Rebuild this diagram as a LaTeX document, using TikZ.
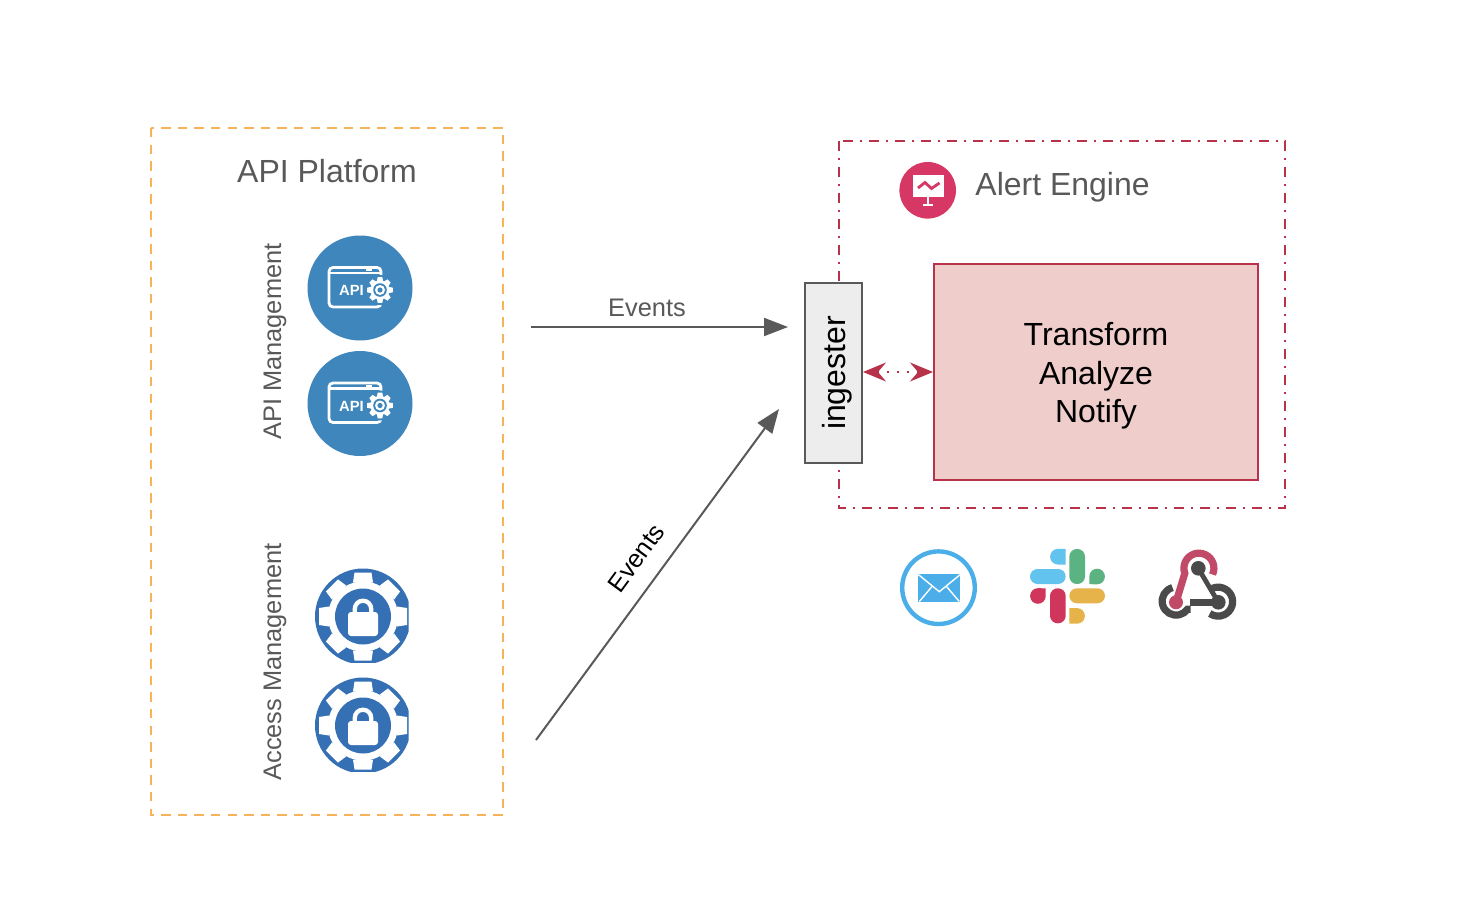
\documentclass[tikz,border=0pt]{standalone}
\usepackage{fontspec}
\setmainfont{Liberation Sans}
\usetikzlibrary{arrows.meta}
\definecolor{txtgrey}{HTML}{595959}
\definecolor{orangeb}{HTML}{F8B35A}
\definecolor{alertred}{HTML}{B8324A}
\definecolor{pinkfill}{HTML}{EECDCB}
\definecolor{apiblue}{HTML}{3E86BC}
\definecolor{lockblue}{HTML}{3570B5}
\definecolor{alertpink}{HTML}{D73765}
\definecolor{mailblue}{HTML}{4BAEE8}
\definecolor{slblue}{HTML}{62C3EE}
\definecolor{slgreen}{HTML}{5BB381}
\definecolor{slred}{HTML}{D0355C}
\definecolor{slyellow}{HTML}{E5B34A}
\definecolor{hookdark}{HTML}{4A4A4A}
\definecolor{hookred}{HTML}{C04A68}
\tikzset{
  flowarrow/.style={draw=txtgrey,line width=1pt,-{Stealth[length=12pt,width=9pt,inset=0pt]}},
  redarrow/.style={draw=alertred,line width=1.2pt,dash pattern=on 1.2pt off 3.8pt,
    {Stealth[length=11.5pt,width=9.5pt,inset=4pt,color=alertred,sep=0pt]}-{Stealth[length=11.5pt,width=9.5pt,inset=4pt,color=alertred,sep=0pt]}},
  greylabel/.style={text=txtgrey,inner sep=0pt,font=\fontsize{12.7pt}{15pt}\selectfont},
  titlelabel/.style={text=txtgrey,inner sep=0pt,font=\fontsize{16pt}{19pt}\selectfont},
  blacklabel/.style={text=black,inner sep=0pt,font=\fontsize{16pt}{19.3pt}\selectfont},
  platformbox/.style={draw=orangeb,line width=1.1pt,dash pattern=on 4.7pt off 3.6pt},
  enginebox/.style={draw=alertred,line width=1.1pt,dash pattern=on 5pt off 3.5pt on 1pt off 3.5pt},
  ingesterbox/.style={draw=txtgrey,line width=1pt,fill=black!7,minimum width=28.5pt,minimum height=90pt,inner sep=0pt,outer sep=0.5pt},
  workbox/.style={draw=alertred,line width=1pt,fill=pinkfill,minimum width=162pt,minimum height=108pt,inner sep=0pt,outer sep=0.5pt,align=center},
  hookline/.style={line width=3.6pt,line cap=butt},
}
\newcommand{\gearfill}[6]{%
  \fill[#1] (0,0) circle [radius=#2];
  \foreach \a in {0,#4,...,359}
    \fill[#1,rotate=\a] (-#5,#2-1) -- (-#6,#3) -- (#6,#3) -- (#5,#2-1) -- cycle;
}
\newcommand{\apiicon}[2]{%
  \begin{scope}[shift={(#1,#2)}]
    \fill[apiblue] (0,0) circle [radius=52.5];
    \draw[white,line width=1.4pt,rounded corners=2pt] (-31,-20.5) rectangle (21,19);
    \draw[white,line width=1.1pt] (-31,-15) -- (21,-15);
    \draw[white,line width=1pt] (6,-18) -- (12,-18);
    \fill[apiblue] (20,2) circle [radius=15];
    \begin{scope}[shift={(20,2)}]
      \gearfill{white}{9.5}{12.8}{45}{3.2}{2.3}
      \fill[apiblue] (0,0) circle [radius=6.8];
      \fill[white] (0,0) circle [radius=5];
      \fill[apiblue] (0,0) circle [radius=2.6];
    \end{scope}
    \node[text=white,inner sep=0pt,font=\fontsize{7.4pt}{8pt}\selectfont\bfseries] at (-8.5,2.5) {API};
  \end{scope}}
\newcommand{\lockicon}[2]{%
  \begin{scope}[shift={(#1,#2)}]
    \clip (-50,-50) rectangle (45.5,45.5);
    \fill[lockblue] (0,0) circle [radius=48];
    \gearfill{white}{35}{44}{45}{10}{8.5}
    \fill[lockblue] (0,0) circle [radius=28];
    \draw[white,line width=2.15pt] (-8.2,-2) -- (-8.2,-7.6) arc [start angle=180,end angle=360,radius=8.2] -- (8.2,-2);
    \fill[white,rounded corners=1.5pt] (-15,-4.5) rectangle (15,19.5);
  \end{scope}}
\newcommand{\slpill}[5]{\fill[#1,rounded corners=3.8pt] (#2,#3) rectangle (#4,#5);}
\begin{document}
\begin{tikzpicture}[x=0.5pt,y=-0.5pt]
\useasboundingbox (0,0) rectangle (1472,920);
\fill[white] (0,0) rectangle (1472,920);

% boxes
\draw[platformbox] (151,128) rectangle (503,815);
\draw[enginebox] (839,141) rectangle (1285,508);
\node[workbox] (work) at (1096,372) {};
\node[ingesterbox] (ingester) at (833.5,373) {};

% texts
\node[titlelabel] (platform) at (327,171) {API Platform};
\node[titlelabel,anchor=west] (engine) at (975,187.5) {Alert Engine};
\node[greylabel,rotate=90] (apim) at (275,341.5) {API Management};
\node[greylabel,rotate=90] (accm) at (275,662) {Access Management};
\node[blacklabel,rotate=90] (ingtext) at (837,373) {ingester};
\node[blacklabel,anchor=base] (t1) at (1096,345.5) {Transform};
\node[blacklabel,anchor=base] (t2) at (1096,384) {Analyze};
\node[blacklabel,anchor=base] (t3) at (1096,422.5) {Notify};

% connectors
\coordinate (e1s) at (531,327);
\coordinate (e1e) at (788,327);
\coordinate (e2s) at (536,740);
\coordinate (e2e) at (779,409);
\draw[flowarrow] (e1s) -- (e1e);
\draw[flowarrow] (e2s) -- (e2e);
\node[greylabel] (ev1) at (647,307.5) {Events};
\node[blacklabel,font=\fontsize{12.6pt}{15pt}\selectfont,rotate=53.7] (ev2) at (636,558) {Events};
\draw[redarrow] (ingester.east |- work.west) -- (work.west);

% icons
\apiicon{360}{288}
\apiicon{360}{403.5}
\lockicon{363}{616.5}
\lockicon{363}{725.5}

% alert engine icon
\fill[alertpink] (927.7,190.3) circle [radius=28.3];
\fill[white] (912.5,174.5) rectangle (943.5,197);
\fill[white] (926.7,197) rectangle (928.7,204);
\fill[white] (922.5,203.5) rectangle (933,205.5);
\draw[alertpink,line width=1.4pt] (918,188) -- (925,182.5) -- (931.5,188.5) -- (939.5,183);

% mail icon
\draw[mailblue,line width=2.2pt] (938.5,587.7) circle [radius=36.3];
\fill[mailblue] (918.3,573.5) rectangle (960.3,602);
\draw[white,line width=0.7pt] (918.3,574.5) -- (939.3,591.7) -- (960.3,574.5);
\draw[white,line width=0.7pt] (919.3,601.5) -- (932,586.5);
\draw[white,line width=0.7pt] (959.3,601.5) -- (946.5,586.5);

% slack icon
\slpill{slblue}{1030}{569}{1065.7}{584}
\slpill{slgreen}{1069.3}{549}{1085}{584}
\slpill{slred}{1050}{588.3}{1065.7}{623.3}
\slpill{slyellow}{1069.3}{588.3}{1105}{603.3}
\fill[slblue] (1065.7,564.5) -- (1057.9,564.5) arc [start angle=90,end angle=270,radius=7.8] -- (1065.7,548.9) -- cycle;
\fill[slgreen] (1089.3,584.2) -- (1089.3,576.5) arc [start angle=180,end angle=450,radius=7.8] -- cycle;
\fill[slred] (1045.7,588.3) -- (1045.7,596) arc [start angle=0,end angle=270,radius=7.8] -- cycle;
\fill[slyellow] (1069.3,608.1) -- (1077.1,608.1) arc [start angle=270,end angle=450,radius=7.8] -- (1069.3,623.7) -- cycle;

% webhook icon
\draw[hookdark,line width=2.4pt] (1198.3,568.3) -- (1218.3,602.3);
\draw[hookdark,line width=3.2pt] (1190,602.3) -- (1218.3,602.3);
\draw[hookdark,hookline] (1172.5,587.6) arc [start angle=255,end angle=35,radius=14] -- ++(3,0);
\draw[hookdark,hookline] (1212,588.5) arc [start angle=245,end angle=485,radius=14.5];
\draw[hookred,hookline] (1212.5,574.5) arc [start angle=25,end angle=-200,radius=15] -- (1176,602.3);
\fill[hookred] (1176,602.3) circle [radius=7];
\fill[hookdark] (1198.3,568.3) circle [radius=7.3];
\fill[hookdark] (1218.3,602.3) circle [radius=7.3];
\end{tikzpicture}
\end{document}
